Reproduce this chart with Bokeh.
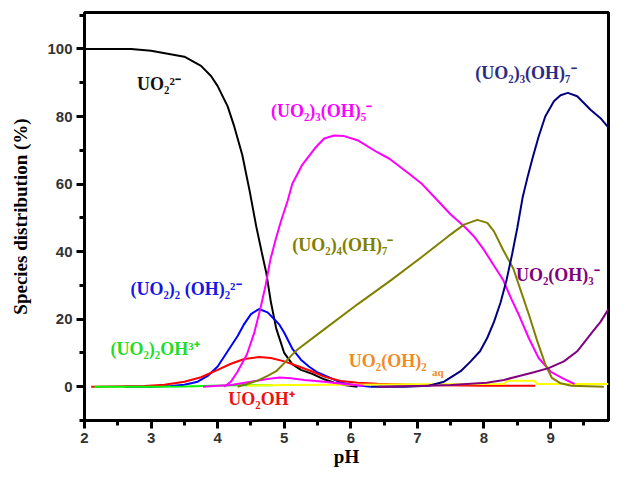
from bokeh.plotting import figure
from bokeh.models import Range1d, FixedTicker, ColumnDataSource
from bokeh.core.properties import value
from bokeh.embed import file_html
from bokeh.resources import INLINE

# ---- data ----
ph_uo2 = [2.0, 2.7, 3.0, 3.5, 3.75, 3.9, 4.0, 4.15, 4.25, 4.37, 4.48, 4.58, 4.66, 4.73, 4.8, 4.88, 5.0, 5.12, 5.25, 5.42, 5.6, 5.75, 5.9, 6.1]
y_uo2 = [100, 100, 99.5, 97.7, 95, 92, 89, 83, 77, 68.6, 58, 47.4, 40, 33.7, 25, 17.2, 10, 6.7, 5, 3.8, 2.2, 1.2, 0.5, 0]

ph_22 = [2.6, 3.0, 3.3, 3.5, 3.7, 3.85, 4.0, 4.15, 4.3, 4.39, 4.5, 4.62, 4.75, 4.85, 4.93, 5.0, 5.12, 5.25, 5.37, 5.5, 5.65, 5.85, 6.05, 6.3]
y_22 = [0, 0, 0.2, 0.6, 1.5, 3.2, 6, 10.5, 15, 18.3, 21.5, 23, 22, 20, 18.3, 16, 11.3, 8, 6, 4.2, 3, 1.2, 0.5, 0]

ph_uo2oh = [2.1, 2.9, 3.2, 3.5, 3.75, 4.0, 4.2, 4.4, 4.62, 4.8, 5.0, 5.22, 5.42, 5.6, 5.85, 6.1, 6.4, 7.0, 8.0, 8.77]
y_uo2oh = [0, 0.2, 0.6, 1.5, 2.8, 5, 6.8, 8.2, 8.8, 8.5, 7.5, 6, 4.5, 3, 1.7, 1.2, 0.9, 0.5, 0.3, 0.3]

ph_21 = [2.15, 3.0, 3.5, 3.9, 4.3, 4.83]
y_21 = [0, 0, 0.1, 0.3, 0.4, 0.4]

ph_35 = [4.1, 4.2, 4.3, 4.44, 4.55, 4.64, 4.72, 4.79, 4.87, 4.95, 5.05, 5.12, 5.27, 5.46, 5.6, 5.75, 5.9, 6.1, 6.39, 6.58, 6.88, 7.07, 7.31, 7.5, 7.7, 7.85, 8.0, 8.16, 8.29, 8.41, 8.53, 8.67, 8.82, 9.0, 9.17, 9.36]
y_35 = [0, 1.5, 4.5, 9.6, 16, 23, 30, 37.5, 43.5, 49, 55, 60, 65.7, 70.6, 73.5, 74.4, 74.2, 73, 69.5, 67.5, 63, 60, 55, 51, 47.5, 44.5, 40.5, 35.5, 31.5, 26, 21, 14.5, 8.5, 4.5, 2.6, 0.8]

ph_minor = [3.78, 4.2, 4.5, 4.75, 4.93, 5.1, 5.3, 5.6, 5.9, 6.2]
y_minor = [0, 0.5, 1.5, 2.3, 2.7, 2.5, 2.0, 1.5, 0.8, 0.3]

ph_47 = [4.3, 4.44, 4.6, 4.75, 4.88, 5.0, 5.12, 5.2, 5.5, 6.1, 6.6, 7.07, 7.46, 7.7, 7.9, 8.05, 8.15, 8.29, 8.44, 8.56, 8.68, 8.8, 8.92, 9.02, 9.15, 9.31, 9.8]
y_47 = [0, 0.8, 1.8, 3.2, 4.6, 7, 9.5, 11, 15.5, 24.4, 31.5, 38.5, 44.5, 48, 49.4, 48.5, 46, 40.4, 35, 28, 21, 13.5, 6.7, 2.6, 1, 0.3, 0]

ph_37 = [6.3, 6.8, 7.17, 7.4, 7.65, 7.8, 7.94, 8.05, 8.15, 8.25, 8.34, 8.42, 8.5, 8.58, 8.66, 8.73, 8.82, 8.92, 9.05, 9.15, 9.26, 9.4, 9.6, 9.75, 9.87]
y_37 = [0, 0, 0.3, 1.5, 4.6, 7.5, 10.5, 14.5, 19.2, 25, 31.7, 39, 47, 56, 62.5, 67.7, 74, 80, 84.5, 86.3, 87, 86, 82, 79.5, 76.7]

ph_oh3 = [6.4, 7.0, 7.5, 8.04, 8.3, 8.53, 8.75, 8.97, 9.2, 9.4, 9.5, 9.62, 9.75, 9.87]
y_oh3 = [0, 0.2, 0.5, 1.2, 2.0, 3.2, 4.3, 5.5, 7.5, 10.5, 13, 16, 19.2, 23]

ph_aq = [4.44, 5.0, 6.0, 7.0, 8.3, 8.35, 8.75, 8.8, 9.87]
y_aq = [0.3, 0.5, 0.6, 0.7, 0.8, 1.8, 1.8, 0.8, 0.8]

x_ticks = [2, 3, 4, 5, 6, 7, 8, 9]
y_ticks = [0, 20, 40, 60, 80, 100]

species_labels = ["UO₂²⁻", "(UO₂)₃(OH)₅⁻", "(UO₂)₃(OH)₇⁻", "(UO₂)₄(OH)₇⁻", "UO₂(OH)₃⁻",
                  "(UO₂)₂ (OH)₂²⁻", "(UO₂)₂OH³⁺", "UO₂(OH)₂", "UO₂OH⁺"]

# ---- layout / style ----
label_x = [2.79, 4.8, 7.87, 5.12, 8.48, 2.69, 2.39, 5.97, 4.16]
label_y = [89.5, 81.5, 93.0, 42.0, 33.0, 29.0, 11.3, 7.5, -3.5]
label_colors = ["#111111", "#FF00FF", "#2B2B85", "#808000", "#800080",
                "#1515E8", "#22DD22", "#F08A24", "#EE1111"]

serif = "Liberation Serif"

p = figure(width=610, height=470, output_backend="svg", toolbar_location=None,
           x_range=Range1d(2, 9.87), y_range=Range1d(-10, 110.8),
           min_border_left=84, min_border_right=2, min_border_top=12, min_border_bottom=50)

p.grid.visible = False
p.outline_line_color = "black"
p.outline_line_width = 3
p.background_fill_color = "white"
p.border_fill_color = "white"

series = [
    (ph_uo2, y_uo2, "#000000"),
    (ph_22, y_22, "#0000FF"),
    (ph_uo2oh, y_uo2oh, "#FF0000"),
    (ph_21, y_21, "#00FF00"),
    (ph_aq, y_aq, "#FFFF00"),
    (ph_minor, y_minor, "#FF00FF"),
    (ph_35, y_35, "#FF00FF"),
    (ph_47, y_47, "#808000"),
    (ph_37, y_37, "#000080"),
    (ph_oh3, y_oh3, "#800080"),
]
for xs, ys, c in series:
    p.line(xs, ys, line_color=c, line_width=2)

src = ColumnDataSource(dict(x=label_x, y=label_y, t=species_labels, c=label_colors))
p.text(x="x", y="y", text="t", text_color="c", source=src,
       text_font=value(serif), text_font_style="bold", text_font_size="18px",
       text_align="left", text_baseline="middle")
# "aq" subscript of UO2(OH)2
p.text(x=[label_x[7] + 1.25], y=[label_y[7] - 3.2], text=["aq"], text_color="#F08A24",
       text_font=value(serif), text_font_style="bold", text_font_size="11px",
       text_align="left", text_baseline="middle")

for ax in (p.xaxis[0], p.yaxis[0]):
    ax.axis_line_width = 3
    ax.axis_line_color = "black"
    ax.major_tick_line_width = 3
    ax.minor_tick_line_width = 3
    ax.major_tick_out = 8
    ax.major_tick_in = 0
    ax.minor_tick_out = 5
    ax.minor_tick_in = 0
    ax.major_label_text_font = "Liberation Sans"
    ax.major_label_text_font_style = "bold"
    ax.major_label_text_font_size = "15px"
    ax.major_label_text_color = "#333333"
    ax.axis_label_text_font = serif
    ax.axis_label_text_font_style = "bold"
    ax.axis_label_text_font_size = "19px"
    ax.axis_label_text_color = "black"

p.xaxis.ticker = FixedTicker(ticks=x_ticks, minor_ticks=[v + 0.5 for v in x_ticks])
p.yaxis.ticker = FixedTicker(ticks=y_ticks, minor_ticks=[v + 10 for v in y_ticks[:-1]] + [-10, 110])
p.xaxis.axis_label = "pH"
p.yaxis.axis_label = "Species distribution (%)"
p.xaxis.major_label_standoff = 4
p.yaxis.major_label_standoff = 4
p.xaxis.axis_label_standoff = 0
p.yaxis.axis_label_standoff = 13

open("out.html", "w").write(file_html(p, INLINE))
